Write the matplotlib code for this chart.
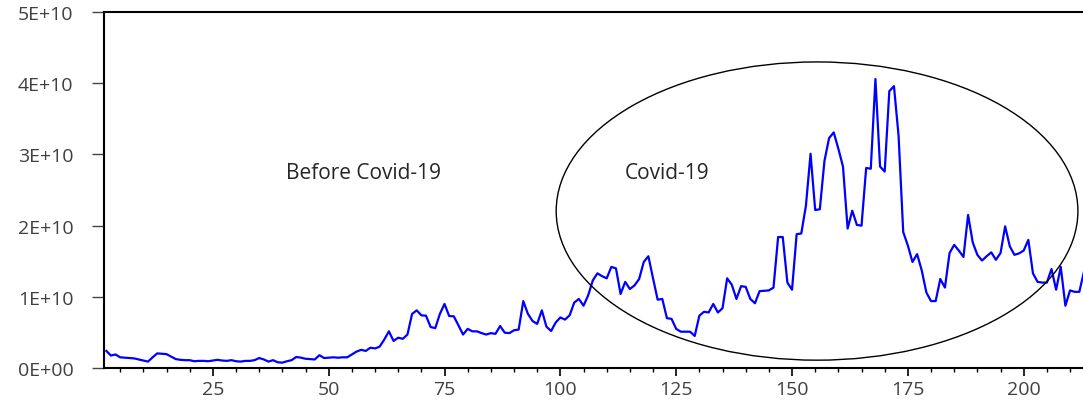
import numpy as np
import matplotlib
matplotlib.use("Agg")
import matplotlib.pyplot as plt
from matplotlib.patches import Ellipse
from matplotlib.ticker import FuncFormatter, MultipleLocator

plt.rcParams['font.family'] = ['Open Sans', 'DejaVu Sans']

# series values, in units of 1E9, observations 2..213
values = [2.4, 1.75, 1.9, 1.5, 1.45, 1.4, 1.35, 1.2, 1.05, 0.9,
          1.5, 2.05, 2.0, 1.95, 1.6, 1.25, 1.15, 1.1, 1.1, 0.95,
          1.0, 1.0, 0.95, 1.05, 1.15, 1.05, 1.0, 1.1, 0.95, 0.9,
          1.0, 1.0, 1.1, 1.4, 1.2, 0.9, 1.1, 0.8, 0.75, 0.95,
          1.1, 1.55, 1.45, 1.3, 1.25, 1.2, 1.8, 1.4, 1.45, 1.5,
          1.45, 1.5, 1.5, 1.9, 2.3, 2.55, 2.4, 2.85, 2.75, 3.0,
          4.0, 5.15, 3.8, 4.26, 4.1, 4.7, 7.6, 8.1, 7.4, 7.35,
          5.76, 5.6, 7.6, 9.0, 7.3, 7.26, 6.0, 4.7, 5.5, 5.15,
          5.15, 4.9, 4.7, 4.9, 4.8, 5.9, 4.96, 4.9, 5.3, 5.4,
          9.4, 7.6, 6.6, 6.2, 8.1, 5.8, 5.2, 6.4, 7.1, 6.8,
          7.4, 9.2, 9.7, 8.75, 10.2, 12.3, 13.3, 12.9, 12.6, 14.2,
          14.0, 10.4, 12.1, 11.1, 11.6, 12.5, 14.9, 15.7, 12.6, 9.6,
          9.7, 7.0, 6.9, 5.5, 5.1, 5.1, 5.1, 4.5, 7.35, 7.9,
          7.8, 9.0, 7.8, 8.4, 12.6, 11.7, 9.7, 11.5, 11.4, 9.7,
          9.1, 10.8, 10.85, 10.9, 11.3, 18.4, 18.4, 12.0, 11.0, 18.8,
          18.9, 22.8, 30.1, 22.2, 22.3, 29.1, 32.3, 33.1, 30.8, 28.3,
          19.6, 22.1, 20.1, 20.0, 28.1, 28.0, 40.6, 28.3, 27.6, 38.9,
          39.6, 32.6, 19.1, 17.2, 14.9, 16.0, 13.7, 10.6, 9.4, 9.4,
          12.5, 11.3, 16.15, 17.3, 16.5, 15.6, 21.5, 17.65, 15.9, 15.1,
          15.7, 16.25, 15.2, 16.15, 19.9, 17.1, 15.9, 16.1, 16.5, 18.0,
          13.3, 12.1, 12.0, 12.0, 13.9, 11.0, 14.2, 8.75, 10.9, 10.7,
          10.7, 13.5]
first_obs = 2
y = np.array(values) * 1e9
x = np.arange(first_obs, first_obs + len(y))

label_before = "Before Covid-19"
label_covid = "Covid-19"

fig = plt.figure(figsize=(10.83, 4.10), dpi=100)
ax = fig.add_axes([0.096, 0.1, 0.904, 0.868])

ax.plot(x, y, color="#0000ff", lw=1.6, zorder=3)

# ellipse round the covid period
ell = Ellipse((155.4, 22.05e9), 112.6, 41.9e9, fill=False, edgecolor="black",
              lw=1.0, zorder=4)
ax.add_patch(ell)

ax.text(57.6, 27.4e9, label_before, fontsize=15, color="#262626", ha="center", va="center")
ax.text(123, 27.4e9, label_covid, fontsize=15, color="#262626", ha="center", va="center")

ax.set_xlim(1.5, 212.8)
ax.set_ylim(0, 5e10)
ax.xaxis.set_major_locator(MultipleLocator(25))
ax.xaxis.set_minor_locator(MultipleLocator(5))
ax.yaxis.set_major_locator(MultipleLocator(1e10))
ax.yaxis.set_major_formatter(FuncFormatter(lambda v, p: f"{v:.0E}"))

ax.spines['right'].set_visible(False)
for s in ['left', 'bottom', 'top']:
    ax.spines[s].set_linewidth(1.5)
    ax.spines[s].set_color("black")

ax.tick_params(axis='y', direction='out', length=9, width=1, color="#444444",
               labelsize=14, labelcolor="#404040", pad=13)
ax.tick_params(axis='x', which='major', direction='out', length=6, width=1.2,
               labelsize=14, labelcolor="#404040", pad=3)
ax.tick_params(axis='x', which='minor', direction='out', length=3, width=1)

fig.savefig("out.png", dpi=100)
